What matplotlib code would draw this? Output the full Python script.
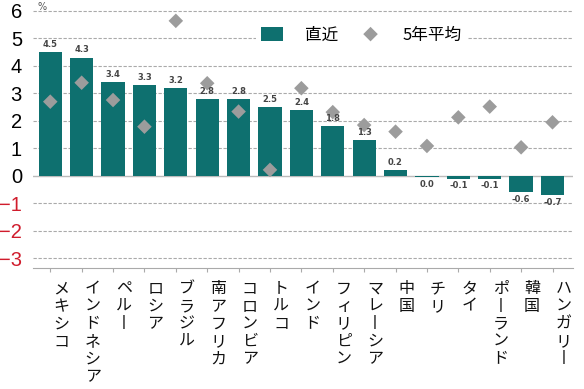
import matplotlib.pyplot as plt

plt.rcParams['font.family'] = ['Noto Sans CJK JP', 'DejaVu Sans']

# Data
countries = ['メキシコ', 'インドネシア', 'ペルー', 'ロシア', 'ブラジル', '南アフリカ',
             'コロンビア', 'トルコ', 'インド', 'フィリピン', 'マレーシア', '中国',
             'チリ', 'タイ', 'ポーランド', '韓国', 'ハンガリー']
latest = [4.5, 4.3, 3.4, 3.3, 3.2, 2.8, 2.8, 2.5, 2.4, 1.8, 1.3, 0.2,
          -0.04, -0.1, -0.1, -0.6, -0.7]
avg5 = [2.70, 3.39, 2.76, 1.79, 5.64, 3.37, 2.34, 0.22, 3.19, 2.32, 1.85,
        1.61, 1.09, 2.13, 2.52, 1.04, 1.95]
yticks = [6, 5, 4, 3, 2, 1, 0, -1, -2, -3]

teal = '#0e706f'
gray = '#9c9c9c'

fig = plt.figure(figsize=(5.84, 3.89), dpi=100)
ax = fig.add_axes([0.0565, 0.311, 0.9245, 0.675])

x = list(range(len(countries)))
bars = ax.bar(x, latest, width=0.74, color=teal, zorder=2, label='直近')
pts = ax.scatter(x, avg5, marker='D', s=55, color=gray, zorder=3, label='5年平均',
                 edgecolors='none')

# value labels
for xi, v in zip(x, latest):
    txt = f'{v:.1f}'.replace('-0.0', '0.0')
    if v >= 0:
        ax.text(xi, v + 0.12, txt, ha='center', va='bottom', fontsize=6,
                color='#444444', family='DejaVu Sans', fontweight='bold')
    else:
        ax.text(xi, v - 0.1, txt, ha='center', va='top', fontsize=6,
                color='#444444', family='DejaVu Sans', fontweight='bold')

# grid
for t in yticks:
    if t == 0:
        ax.axhline(0, color='#bbbbbb', lw=1.0, zorder=1)
    else:
        ax.axhline(t, color='#aaaaaa', lw=0.8, ls=(0, (3, 1.5)), zorder=1)

ax.set_xlim(-0.55, 16.65)
ax.set_ylim(-3.35, 6.2)

ax.set_yticks(yticks)
ax.set_yticklabels([f'{t}' if t >= 0 else f'\u2212{-t}' for t in yticks],
                   family='Liberation Sans', fontsize=14.5)
for lab, t in zip(ax.get_yticklabels(), yticks):
    lab.set_color('#d01c2c' if t < 0 else 'black')
ax.tick_params(axis='y', length=0, pad=8)

ax.set_xticks(x)
ax.set_xticklabels([])
ax.tick_params(axis='x', length=3, color='#aaaaaa', direction='out')

for s in ['top', 'right', 'left']:
    ax.spines[s].set_visible(False)
ax.spines['bottom'].set_color('#aaaaaa')

# vertical category labels
for xi, name in zip(x, countries):
    vert = '\n'.join('丨' if c == 'ー' else c for c in name)
    ax.text(xi + 0.35, -3.8, vert, ha='center', va='top', fontsize=11.5,
            linespacing=1.04, color='#111111', clip_on=False)

fig.text(42 / 584, 1 - 7 / 389, '%', fontsize=7, color='#555555',
         ha='center', va='center', family='DejaVu Sans')

leg = ax.legend(handles=[bars, pts], loc='center',
                bbox_to_anchor=(0.609, 0.887), ncol=2,
                fontsize=12, frameon=True, edgecolor='none', framealpha=1,
                handlelength=1.3, handleheight=1.0, columnspacing=1.3,
                handletextpad=1.3, borderpad=0.3)

plt.savefig('out.png', dpi=100)
